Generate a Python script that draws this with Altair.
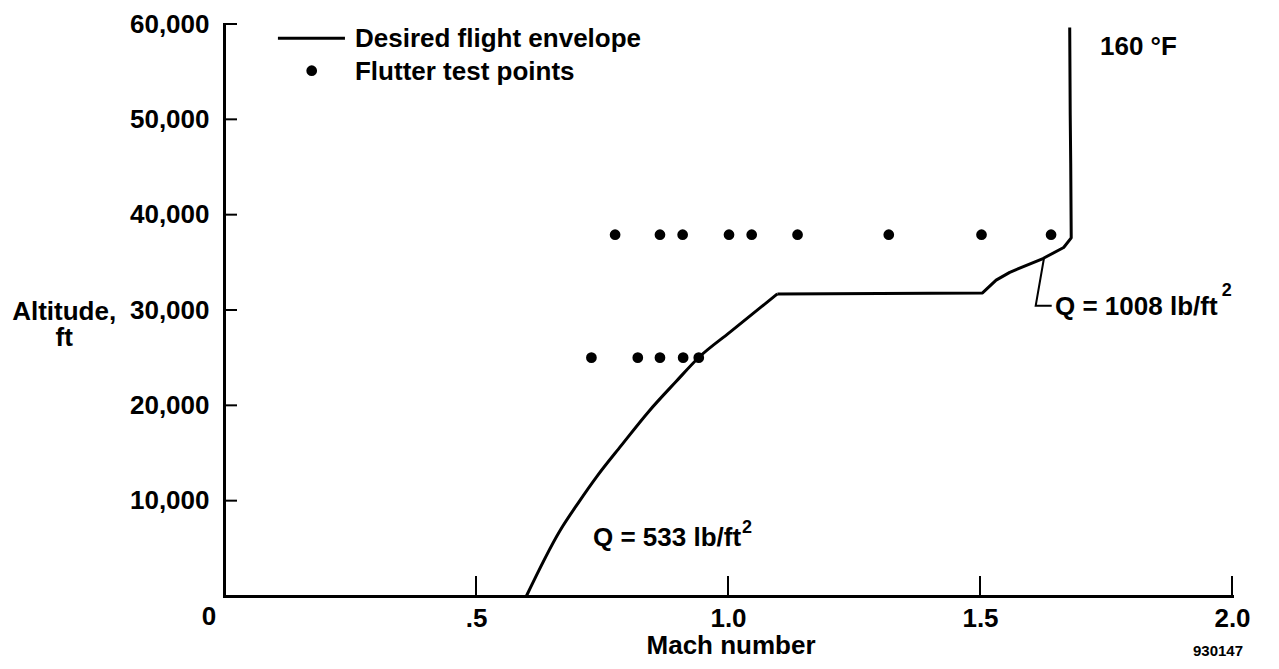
import altair as alt
import pandas as pd

# ---- data ----
# Desired flight envelope (Mach, altitude ft): lower curved branch
low_env_mach = [0.600, 0.666, 0.704, 0.740, 0.788, 0.842, 0.897, 0.942, 1.004, 1.098]
low_env_alt = [0, 6800, 9850, 12550, 15770, 19310, 22500, 25020, 27680, 31690]
# plateau, Q = 1008 rise and 160 F temperature limit, in drawing order
up_env_mach = [1.098, 1.505, 1.532, 1.559, 1.625, 1.666, 1.681, 1.680, 1.679, 1.678]
up_env_alt = [31690, 31790, 33130, 33950, 35400, 36560, 37570, 45330, 50500, 59640]

# Flutter test points
upper_mach = [0.776, 0.865, 0.910, 1.002, 1.047, 1.138, 1.319, 1.503, 1.641]
upper_alt = [37900] * 9
lower_mach = [0.729, 0.821, 0.865, 0.911, 0.942]
lower_alt = [25000] * 5

x_tick_values = [0.5, 1.0, 1.5, 2.0]
y_tick_values = [10000, 20000, 30000, 40000, 50000, 60000]

legend_labels = ["Desired flight envelope", "Flutter test points"]

# ---- layout ----
W, H = 1008, 572
FONT = "Liberation Sans, Arial, Helvetica, sans-serif"

xs = alt.Scale(domain=[0, 2], nice=False, zero=False)
ys = alt.Scale(domain=[0, 60000], nice=False, zero=False)

x_axis = alt.Axis(values=x_tick_values, ticks=False, grid=False, title=None,
                  labelExpr="datum.value == 0.5 ? '.5' : format(datum.value, '.1f')",
                  labelFont=FONT, labelFontSize=26, labelFontWeight="bold",
                  labelColor="black", labelPadding=9, labelFlush=False,
                  labelOverlap=False, domainColor="black", domainWidth=3,
                  domainCap="square")
y_axis = alt.Axis(values=y_tick_values, ticks=False, grid=False, title=None,
                  format=",d", labelFont=FONT, labelFontSize=26,
                  labelFontWeight="bold", labelColor="black", labelPadding=15,
                  labelOverlap=False, domainColor="black", domainWidth=3,
                  domainCap="square")


def X(field="mach"):
    return alt.X(f"{field}:Q", scale=xs, axis=x_axis)


def Y(field="alt"):
    return alt.Y(f"{field}:Q", scale=ys, axis=y_axis)


low_df = pd.DataFrame({"mach": low_env_mach, "alt": low_env_alt,
                       "i": range(len(low_env_mach))})
up_df = pd.DataFrame({"mach": up_env_mach, "alt": up_env_alt,
                      "i": range(len(up_env_mach))})
pts_df = pd.DataFrame({"mach": upper_mach + lower_mach, "alt": upper_alt + lower_alt})

env_low = alt.Chart(low_df).mark_line(color="black", strokeWidth=3,
                                      interpolate="monotone",
                                      strokeJoin="round").encode(
    x=X(), y=Y(), order=alt.Order("i:Q"))
env_up = alt.Chart(up_df).mark_line(color="black", strokeWidth=3,
                                    strokeJoin="round").encode(
    x=X(), y=Y(), order=alt.Order("i:Q"))

points = alt.Chart(pts_df).mark_circle(color="black", opacity=1, size=115).encode(
    x=X(), y=Y())

# inward ticks
xt = alt.Chart(pd.DataFrame({"mach": x_tick_values})).mark_rule(
    color="black", strokeWidth=2).encode(x=X(), y=alt.value(H), y2=alt.value(H - 20))
yt = alt.Chart(pd.DataFrame({"alt": y_tick_values})).mark_rule(
    color="black", strokeWidth=2).encode(y=Y(), x=alt.value(0), x2=alt.value(13))

# legend
leg_line = alt.Chart(pd.DataFrame({"mach": [0.107], "mach2": [0.240], "alt": [58500]})
                     ).mark_rule(color="black", strokeWidth=3).encode(
    x=X(), x2="mach2:Q", y=Y())
leg_dot = alt.Chart(pd.DataFrame({"mach": [0.174], "alt": [55100]})).mark_circle(
    color="black", opacity=1, size=115).encode(x=X(), y=Y())

# leader line for Q = 1008
leader = alt.Chart(pd.DataFrame({"mach": [1.627, 1.6105, 1.6423],
                                 "alt": [35450, 30440, 30440], "i": [0, 1, 2]})
                   ).mark_line(color="black", strokeWidth=2).encode(
    x=X(), y=Y(), order=alt.Order("i:Q"))

left_texts = pd.DataFrame({
    "mach": [0.2599, 0.2599, 1.7381, 1.6488, 1.9796, 0.7321, 1.0278],
    "alt": [58500, 55100, 57690, 30440, 32100, 6220, 7190],
    "text": [legend_labels[0], legend_labels[1], "160 °F", "Q = 1008 lb/ft", "2",
             "Q = 533 lb/ft", "2"],
    "fs": [26, 26, 26, 26, 18, 26, 18],
})
center_texts = pd.DataFrame({
    "mach": [-0.0298, 1.006, 1.9722, -0.3171],
    "alt": [-2150, -5140, -5660, 29900],
    "text": ["0", "Mach number", "930147", "Altitude,\nft"],
    "fs": [26, 26, 15, 26],
})

ltext = alt.Chart(left_texts).mark_text(align="left", baseline="middle", font=FONT,
                                        fontWeight="bold", color="black", dy=1).encode(
    x=X(), y=Y(), text="text:N", size=alt.Size("fs:Q", scale=None))
ctext = alt.Chart(center_texts).mark_text(align="center", baseline="middle", font=FONT,
                                          fontWeight="bold", color="black", dy=1,
                                          lineBreak="\n", lineHeight=26).encode(
    x=X(), y=Y(), text="text:N", size=alt.Size("fs:Q", scale=None))

chart = alt.layer(env_low, env_up, points, xt, yt, leg_line, leg_dot, leader,
                  ltext, ctext).properties(
    width=W, height=H,
    autosize=alt.AutoSizeParams(type="none"),
    padding={"left": 216, "top": 16, "right": 30, "bottom": 64},
    background="white",
).configure_view(stroke=None)

chart.save("out.html", embed_options={"renderer": "svg", "actions": False})
